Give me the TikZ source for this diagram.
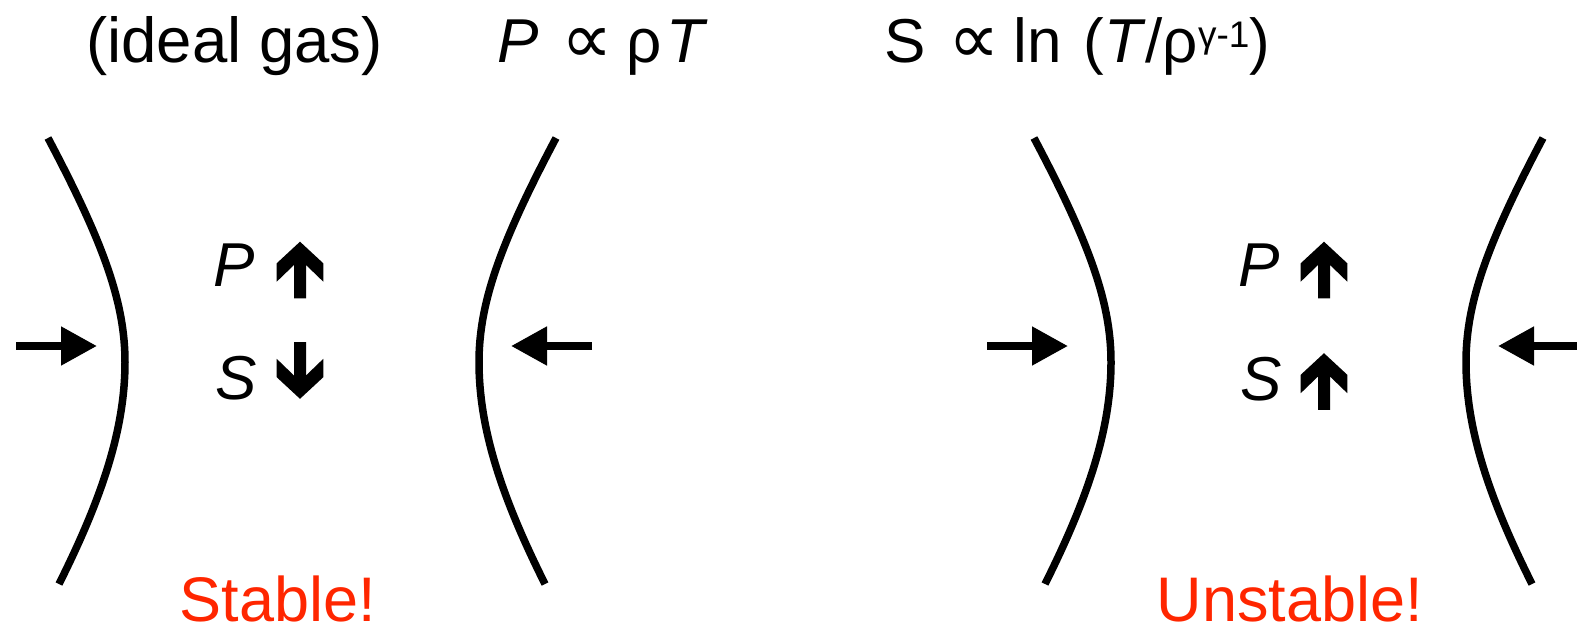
\documentclass[tikz,border=0pt]{standalone}
\usepackage{fontspec}
\setmainfont{Liberation Sans}
\newfontfamily\symfont{DejaVu Sans}
\usetikzlibrary{arrows.meta}
\definecolor{alertred}{RGB}{255,38,0}

\newcommand{\prop}{\hspace{23pt}\raisebox{-1pt}{\symfont\fontsize{72}{72}\selectfont ∝}\hspace{14pt}}
\newcommand{\supsc}[1]{\raisebox{15pt}{\fontsize{37}{37}\selectfont #1}}

\tikzset{
  wall/.style={line width=7.5pt},
  push/.style={line width=8pt, -{Triangle[length=36pt,width=37pt]}},
  lbl/.style={inner sep=0pt, anchor=base west, font=\fontsize{62}{74}\selectfont},
  verdict/.style={inner sep=0pt, anchor=base, text=alertred, font=\fontsize{63}{74}\selectfont},
  pics/wall/.style={code={
    \draw[wall] (-77,-224) .. controls (-22,-120) and (0,-60) .. (0,0)
      .. controls (0,66) and (-22,134) .. (-66,222);}},
  pics/blockup/.style={code={
    \fill (0,-28.3) -- (23.3,-6.7) -- (23.3,11.7) -- (6,-5) -- (6,28.3)
      -- (-6,28.3) -- (-6,-5) -- (-23.3,11.7) -- (-23.3,-6.7) -- cycle;}}
}

\begin{document}
\begin{tikzpicture}[x=1pt, y=-1pt]
  \useasboundingbox (0,0) rectangle (1577,626);

  % headings
  \node[lbl, font=\fontsize{63.5}{74}\selectfont] (gas) at (86,63) {(ideal gas)};
  \node[lbl] (eos) at (497,63) {\textit{P}\prop ρ\hspace{4pt}\textit{T}};
  \node[lbl] (entropy) at (884,63) {S\prop ln\hspace{4pt} (\textit{T}/ρ\supsc{γ-1})};

  % walls
  \pic at (125,362) {wall};
  \pic[xscale=-1] at (479,362) {wall};
  \pic at (1111,362) {wall};
  \pic[xscale=-1] at (1466,362) {wall};

  % pushing arrows
  \coordinate (l1) at (16,346);   \coordinate (t1) at (97,346);
  \coordinate (l2) at (592,346);  \coordinate (t2) at (511,346);
  \coordinate (l3) at (987,346);  \coordinate (t3) at (1068,346);
  \coordinate (l4) at (1577,346); \coordinate (t4) at (1498,346);
  \draw[push] (l1) -- (t1);
  \draw[push] (l2) -- (t2);
  \draw[push] (l3) -- (t3);
  \draw[push] (l4) -- (t4);

  % stable case
  \node[lbl] (pstab) at (213,286) {\textit{P}};
  \node[lbl] (sstab) at (215,399) {\textit{S}};
  \pic at (300,270) {blockup};
  \pic[yscale=-1] at (300,370.5) {blockup};
  \node[verdict] (stab) at (278,621) {Stable!};

  % unstable case
  \node[lbl] (punst) at (1238,286) {\textit{P}};
  \node[lbl] (sunst) at (1240,400) {\textit{S}};
  \pic at (1324,270) {blockup};
  \pic at (1324,381.5) {blockup};
  \node[verdict] (unst) at (1290,621) {Unstable!};
\end{tikzpicture}
\end{document}
